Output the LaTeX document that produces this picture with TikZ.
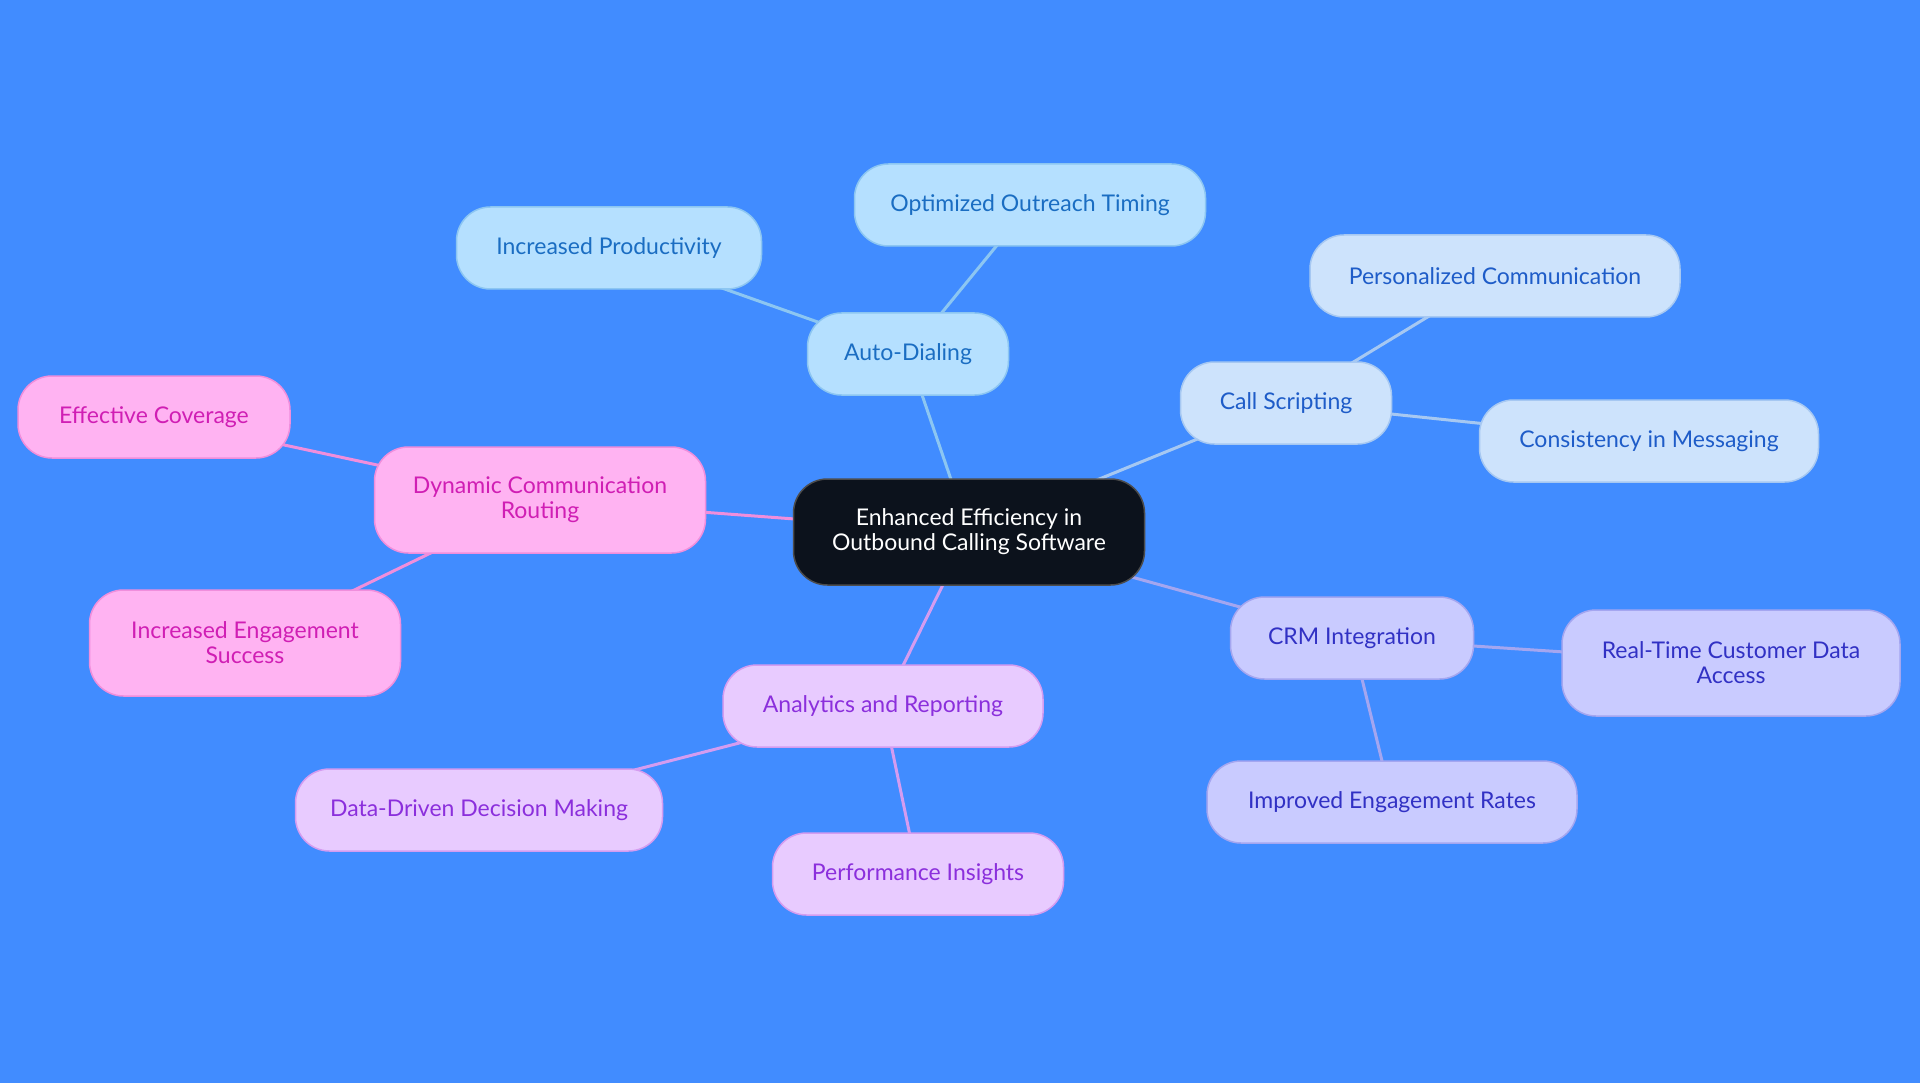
\documentclass[tikz,border=0pt]{standalone}
\usepackage{fontspec}
\setmainfont{Lato}
\usetikzlibrary{backgrounds}
\definecolor{bg}{HTML}{418CFF}
\definecolor{rootF}{HTML}{0C121C}
\definecolor{autoF}{HTML}{B5E0FF}\definecolor{autoD}{HTML}{8CC6F2}\definecolor{autoT}{HTML}{1A6DC2}
\definecolor{callF}{HTML}{CDE3FC}\definecolor{callD}{HTML}{A6C8F2}\definecolor{callT}{HTML}{1E5CC8}
\definecolor{crmF}{HTML}{C9CBFF}\definecolor{crmD}{HTML}{A4A6F0}\definecolor{crmT}{HTML}{3131C4}
\definecolor{anaF}{HTML}{E8CBFF}\definecolor{anaD}{HTML}{D49CF0}\definecolor{anaT}{HTML}{8B2FDC}
\definecolor{dynF}{HTML}{FFB3F2}\definecolor{dynD}{HTML}{F08EDC}\definecolor{dynT}{HTML}{D01EB4}
\begin{document}
\begin{tikzpicture}[x=1pt,y=-1pt,
    topic/.style={rectangle,rounded corners=34pt,inner sep=0pt,minimum height=82pt,align=center,line width=1.5pt,font=\fontsize{23}{25}\selectfont},
    tall/.style={topic,minimum height=106pt},
    autoN/.style={topic,fill=autoF,draw=autoD,text=autoT},
    callN/.style={topic,fill=callF,draw=callD,text=callT},
    crmN/.style={topic,fill=crmF,draw=crmD,text=crmT},
    anaN/.style={topic,fill=anaF,draw=anaD,text=anaT},
    dynN/.style={topic,fill=dynF,draw=dynD,text=dynT},
    link/.style={line width=3pt}]
    \useasboundingbox (0,0) rectangle (1920,1083);
    % centre
    \node[tall,fill=rootF,draw=black!70,text=white,minimum width=351pt] (root) at (969,532) {Enhanced Efficiency in\\Outbound Calling Software};
    % auto-dialing
    \node[autoN,minimum width=201pt] (auto) at (908,354) {Auto-Dialing};
    \node[autoN,minimum width=305pt] (prod) at (609,248) {Increased Productivity};
    \node[autoN,minimum width=351pt] (timing) at (1030,205) {Optimized Outreach Timing};
    % call scripting
    \node[callN,minimum width=211pt] (script) at (1286,403) {Call Scripting};
    \node[callN,minimum width=370pt] (pers) at (1495,276) {Personalized Communication};
    \node[callN,minimum width=339pt] (consist) at (1649,441) {Consistency in Messaging};
    % crm
    \node[crmN,minimum width=243pt] (crm) at (1352,638) {CRM Integration};
    \node[crmN,tall,minimum width=338pt] (realtime) at (1731,663) {Real-Time Customer Data\\Access};
    \node[crmN,minimum width=370pt] (rates) at (1392,802) {Improved Engagement Rates};
    % analytics
    \node[anaN,minimum width=320pt] (ana) at (883,706) {Analytics and Reporting};
    \node[anaN,minimum width=367pt] (data) at (479,810) {Data-Driven Decision Making};
    \node[anaN,minimum width=291pt] (perf) at (918,874) {Performance Insights};
    % routing
    \node[dynN,tall,minimum width=331pt] (dyn) at (540,500) {Dynamic Communication\\Routing};
    \node[dynN,minimum width=272pt] (cover) at (154,417) {Effective Coverage};
    \node[dynN,tall,minimum width=311pt] (succ) at (245,643) {Increased Engagement\\Success};
    \begin{scope}[on background layer]
    \fill[bg] (0,0) rectangle (1920,1083);
    \draw[link,autoD] (root.center) -- (auto.center) (auto.center) -- (prod.center) (auto.center) -- (timing.center);
    \draw[link,callD] (root.center) -- (script.center) (script.center) -- (pers.center) (script.center) -- (consist.center);
    \draw[link,crmD] (root.center) -- (crm.center) (crm.center) -- (realtime.center) (crm.center) -- (rates.center);
    \draw[link,anaD] (root.center) -- (ana.center) (ana.center) -- (data.center) (ana.center) -- (perf.center);
    \draw[link,dynD] (root.center) -- (dyn.center) (dyn.center) -- (cover.center) (dyn.center) -- (succ.center);
    \end{scope}
\end{tikzpicture}
\end{document}
